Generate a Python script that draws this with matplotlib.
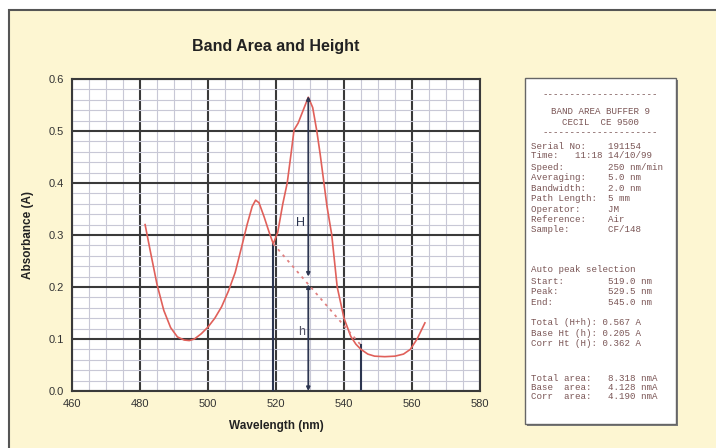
import matplotlib
matplotlib.use('Agg')
import matplotlib.pyplot as plt
from matplotlib.patches import Rectangle
import numpy as np

plt.rcParams['font.family'] = ['Liberation Sans', 'DejaVu Sans']

# spectrum
wavelength = [481.5, 483, 485, 487, 489, 491, 493, 494.5, 496, 498, 500, 502, 504,
              506, 508, 510, 511.5, 513, 514, 515, 516.5, 518, 519.2, 520.5, 522,
              523.3, 524.5, 525.3, 526.5, 528, 529.5, 530.8, 532, 533, 534, 535,
              536.4, 538, 540, 542, 543.5, 545, 547, 549, 552, 555, 557.5, 559.5,
              561.5, 563.8]
absorbance = [0.320, 0.270, 0.205, 0.155, 0.122, 0.104, 0.098, 0.097, 0.100, 0.110,
              0.123, 0.140, 0.162, 0.192, 0.228, 0.280, 0.320, 0.355, 0.367, 0.362,
              0.335, 0.305, 0.283, 0.305, 0.360, 0.400, 0.460, 0.502, 0.515, 0.540,
              0.565, 0.545, 0.500, 0.455, 0.405, 0.355, 0.300, 0.200, 0.140, 0.105,
              0.090, 0.080, 0.071, 0.067, 0.066, 0.067, 0.071, 0.080, 0.100, 0.131]

start_nm, peak_nm, end_nm = 519.2, 529.5, 545.0
start_abs, peak_abs, end_abs = 0.283, 0.567, 0.088
base_ht = 0.205

header_lines = ["BAND AREA BUFFER 9", "CECIL  CE 9500"]
info_lines = [
    "Serial No:    191154",
    "Time:   11:18 14/10/99",
    "Speed:        250 nm/min",
    "Averaging:    5.0 nm",
    "Bandwidth:    2.0 nm",
    "Path Length:  5 mm",
    "Operator:     JM",
    "Reference:    Air",
    "Sample:       CF/148",
    "",
    "Auto peak selection",
    "Start:        519.0 nm",
    "Peak:         529.5 nm",
    "End:          545.0 nm",
    "",
    "Total (H+h): 0.567 A",
    "Base Ht (h): 0.205 A",
    "Corr Ht (H): 0.362 A",
    "",
    "Total area:   8.318 nmA",
    "Base  area:   4.128 nmA",
    "Corr  area:   4.190 nmA",
]

W, H = 716, 448
fig = plt.figure(figsize=(W / 100, H / 100), dpi=100, facecolor='white')

# yellow panel with a dark frame
fig.patches.append(Rectangle((9 / W, -0.1), 1, 1.1 - 10 / H, transform=fig.transFigure,
                             facecolor='#fdf6d2', edgecolor='#555555', lw=1.5, zorder=-2))

ax = fig.add_axes([72 / W, (H - 391) / H, (480 - 72) / W, (391 - 79) / H])
ax.set_zorder(3)
ax.set_facecolor('white')
ax.set_xlim(460, 580)
ax.set_ylim(0, 0.6)
ax.set_xticks(np.arange(460, 581, 20))
ax.set_yticks(np.arange(0, 0.61, 0.1))
ax.set_yticklabels(['%.1f' % v for v in np.arange(0, 0.61, 0.1)])
ax.set_xticks(np.arange(460, 581, 5), minor=True)
ax.set_yticks(np.arange(0, 0.601, 0.02), minor=True)
ax.grid(which='minor', color='#c8c8d6', lw=0.8)
ax.grid(which='major', color='#3a3a3a', lw=1.5)
ax.set_axisbelow(True)
ax.tick_params(which='both', length=0, pad=6, labelsize=8, labelcolor='#333333')
for s in ax.spines.values():
    s.set_color('#3a3a3a')
    s.set_linewidth(1.5)

navy = '#2c3550'
red = '#e0605a'

ax.plot(wavelength, absorbance, color=red, lw=1.2, zorder=4)

# baseline between start and end of the band
ax.plot([start_nm, end_nm], [start_abs, end_abs], color='#e08080', lw=1.3, ls=(0, (1.5, 2.5)), zorder=4)

# start and end markers
ax.plot([start_nm, start_nm], [0, start_abs], color=navy, lw=1.5, zorder=3)
ax.plot([end_nm, end_nm], [0, end_abs], color=navy, lw=1.5, zorder=3)

# H and h arrows
arr = dict(arrowstyle='<|-|>', color=navy, lw=1.3, mutation_scale=5, shrinkA=0, shrinkB=0)
ax.annotate('', xy=(peak_nm, peak_abs), xytext=(peak_nm, base_ht + 0.015), arrowprops=arr, zorder=5)
ax.annotate('', xy=(peak_nm, base_ht), xytext=(peak_nm, 0.0), arrowprops=arr, zorder=5)
ax.text(527.2, 0.323, 'H', color=navy, fontsize=9, ha='center', va='center', zorder=6)
ax.text(527.4, 0.113, 'h', color='#555566', fontsize=9, ha='center', va='center', zorder=6)

ax.set_title('Band Area and Height', fontsize=11.5, fontweight='bold', pad=20, color='#222222')
ax.set_xlabel('Wavelength (nm)', fontsize=8.5, fontweight='bold', color='#222222', labelpad=8)
ax.set_ylabel('Absorbance (A)', fontsize=8.5, fontweight='bold', color='#222222', labelpad=10)

# instrument report box
bx0, by0, bx1, by1 = 525, 78, 676, 424
fig.patches.append(Rectangle((bx0 / W + 2 / W, 1 - (by1 + 2) / H), (bx1 - bx0) / W, (by1 - by0) / H,
                             transform=fig.transFigure, facecolor='#7a7a7a', edgecolor='none', zorder=1))
fig.patches.append(Rectangle((bx0 / W, 1 - by1 / H), (bx1 - bx0) / W, (by1 - by0) / H,
                             transform=fig.transFigure, facecolor='white', edgecolor='#666666',
                             lw=1.0, zorder=2))

mono = dict(fontsize=6.6, family='Liberation Mono', color='#7a5555', va='center', zorder=3)
cx = (bx0 + bx1) / 2 / W
fig.text(cx, 1 - 95 / H, '-' * 21, ha='center', **mono)
fig.text(cx, 1 - 112 / H, header_lines[0], ha='center', **mono)
fig.text(cx, 1 - 122 / H, header_lines[1], ha='center', **mono)
fig.text(cx, 1 - 133 / H, '-' * 21, ha='center', **mono)

line_y = [146, 156, 167, 177, 188, 198, 209, 219, 230, 0,
          270, 281, 291, 302, 0, 322, 333, 343, 0, 378, 387, 396]
for txt, y in zip(info_lines, line_y):
    if not txt:
        continue
    fig.text(531 / W, 1 - y / H, txt, ha='left', **mono)

fig.savefig('out.png', dpi=100, facecolor=fig.get_facecolor())
